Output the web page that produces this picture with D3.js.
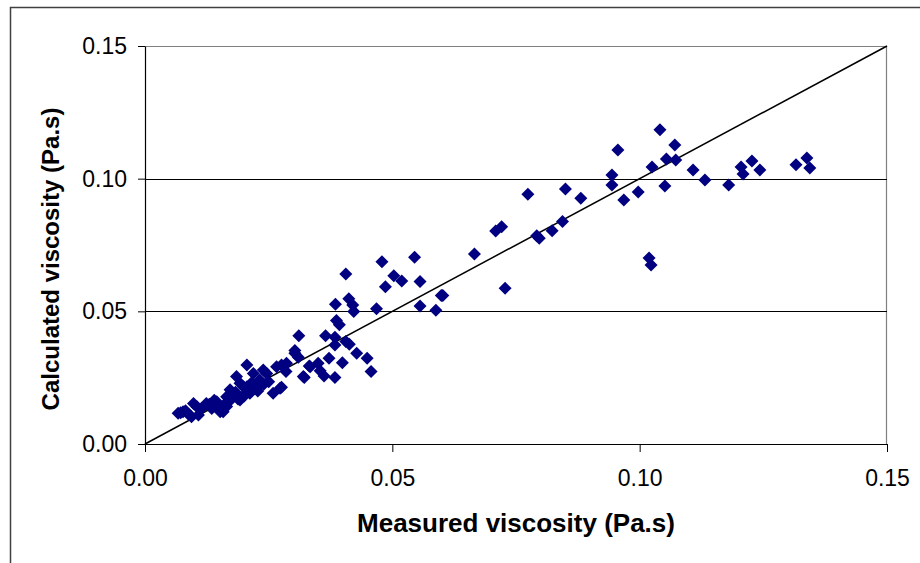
<!DOCTYPE html>
<html>
<head>
<meta charset="utf-8">
<script src="https://cdn.jsdelivr.net/npm/d3@7"></script>
<style>
  html, body { margin: 0; padding: 0; background: #fff; }
  svg { display: block; }
  text { font-family: "Liberation Sans", Arial, sans-serif; }
</style>
</head>
<body>
<svg id="chart" width="920" height="563"></svg>
<script>
// Measured vs calculated viscosity (Pa.s)
const measured = [
  0.1041, 0.0956, 0.1071, 0.1054, 0.1073, 0.0944, 0.0944, 0.1025, 0.1108, 0.1132,
  0.1051, 0.0997, 0.0968, 0.1180, 0.1205, 0.1209, 0.1227, 0.1243, 0.1316, 0.1338,
  0.1344, 0.1019, 0.1023,
  0.0774, 0.0850, 0.0881, 0.0844, 0.0823, 0.0797, 0.0792, 0.0721, 0.0709, 0.0666,
  0.0728, 0.0602,
  0.0545, 0.0479, 0.0406, 0.0503, 0.0519, 0.0556, 0.0486, 0.0599, 0.0412, 0.0385,
  0.0420, 0.0422, 0.0468, 0.0556, 0.0588, 0.0387, 0.0393, 0.0311, 0.0365, 0.0384,
  0.0406, 0.0413, 0.0384, 0.0303, 0.0428, 0.0449, 0.0310, 0.0372, 0.0399, 0.0332,
  0.0350, 0.0354, 0.0362, 0.0384, 0.0322, 0.0457, 0.0285, 0.0276, 0.0276,
  0.0067, 0.0077, 0.0094, 0.0098, 0.0108, 0.0124, 0.0135, 0.0145, 0.0158, 0.0165,
  0.0172, 0.0185, 0.0192, 0.0206, 0.0199, 0.0212, 0.0232, 0.0239, 0.0246, 0.0259,
  0.0273, 0.0266, 0.0286, 0.0303, 0.0320, 0.0334, 0.0219, 0.0192, 0.0145, 0.0178,
  0.0225, 0.0152, 0.0206, 0.0165, 0.0082, 0.0088, 0.0115, 0.0130, 0.0170, 0.0183,
  0.0200, 0.0215, 0.0240, 0.0250, 0.0188, 0.0160, 0.0228, 0.0072, 0.0105, 0.0140
];
const calculated = [
  0.1184, 0.1108, 0.1127, 0.1074, 0.1070, 0.1014, 0.0976, 0.1044, 0.1033, 0.0995,
  0.0972, 0.0950, 0.0920, 0.0976, 0.1044, 0.1018, 0.1067, 0.1033, 0.1052, 0.1078,
  0.1040, 0.0701, 0.0675,
  0.0941, 0.0961, 0.0926, 0.0839, 0.0804, 0.0775, 0.0785, 0.0819, 0.0803, 0.0716,
  0.0587, 0.0560,
  0.0704, 0.0687, 0.0641, 0.0634, 0.0614, 0.0612, 0.0593, 0.0560, 0.0547, 0.0527,
  0.0524, 0.0499, 0.0510, 0.0520, 0.0504, 0.0465, 0.0449, 0.0408, 0.0408, 0.0402,
  0.0386, 0.0376, 0.0373, 0.0352, 0.0342, 0.0323, 0.0327, 0.0323, 0.0306, 0.0294,
  0.0304, 0.0276, 0.0256, 0.0251, 0.0251, 0.0273, 0.0273, 0.0214, 0.0298,
  0.0116, 0.0122, 0.0103, 0.0153, 0.0109, 0.0153, 0.0134, 0.0159, 0.0122, 0.0141,
  0.0204, 0.0254, 0.0166, 0.0298, 0.0216, 0.0191, 0.0241, 0.0279, 0.0266, 0.0191,
  0.0210, 0.0291, 0.0304, 0.0342, 0.0254, 0.0291, 0.0266, 0.0229, 0.0141, 0.0178,
  0.0210, 0.0122, 0.0216, 0.0178, 0.0125, 0.0112, 0.0135, 0.0150, 0.0160, 0.0195,
  0.0180, 0.0230, 0.0225, 0.0235, 0.0170, 0.0148, 0.0200, 0.0118, 0.0140, 0.0165
];
const tickValues = [0, 0.05, 0.10, 0.15];
const parityLine = [0, 0.15];

const svg = d3.select("#chart");
const plotLeft = 145, plotRight = 887, plotTop = 46, plotBottom = 444;

const x = d3.scaleLinear().domain([0, 0.15]).range([plotLeft, plotRight]);
const y = d3.scaleLinear().domain([0, 0.15]).range([plotBottom, plotTop]);

// outer chart frame
svg.append("path")
  .attr("d", "M10.5,563 L10.5,7.5 L920,7.5")
  .attr("fill", "none").attr("stroke", "#404040").attr("stroke-width", 1.5);

// plot area frame (top and right)
svg.append("path")
  .attr("d", `M${plotLeft},${plotTop + 0.5} L${plotRight - 0.5},${plotTop + 0.5} L${plotRight - 0.5},${plotBottom}`)
  .attr("fill", "none").attr("stroke", "#808080").attr("stroke-width", 1.2);

// horizontal gridlines
svg.append("g").selectAll("line")
  .data(tickValues.filter(v => v > 0 && v < 0.15))
  .join("line")
  .attr("x1", plotLeft).attr("x2", plotRight)
  .attr("y1", d => Math.round(y(d)) + 0.5).attr("y2", d => Math.round(y(d)) + 0.5)
  .attr("stroke", "#000").attr("stroke-width", 1);

const fmt = d3.format(".2f");

// x axis
const xAxis = svg.append("g")
  .attr("transform", `translate(0,${plotBottom})`)
  .call(d3.axisBottom(x).tickValues(tickValues).tickFormat(fmt).tickSize(8).tickPadding(18).tickSizeOuter(0));
xAxis.select(".domain").attr("stroke", "#000").attr("stroke-width", 1.2);
xAxis.selectAll(".tick line").attr("stroke", "#000");
xAxis.selectAll("text").attr("font-size", 23).attr("fill", "#000")
  .attr("font-family", "Liberation Sans, Arial, sans-serif");

// y axis
const yAxis = svg.append("g")
  .attr("transform", `translate(${plotLeft},0)`)
  .call(d3.axisLeft(y).tickValues(tickValues).tickFormat(fmt).tickSize(7).tickPadding(11).tickSizeOuter(0));
yAxis.select(".domain").attr("stroke", "#000").attr("stroke-width", 1.2);
yAxis.selectAll(".tick line").attr("stroke", "#000");
yAxis.selectAll("text").attr("font-size", 23).attr("fill", "#000")
  .attr("font-family", "Liberation Sans, Arial, sans-serif");

// parity line y = x
svg.append("line")
  .attr("x1", x(parityLine[0])).attr("y1", y(parityLine[0]))
  .attr("x2", x(parityLine[1])).attr("y2", y(parityLine[1]))
  .attr("stroke", "#000").attr("stroke-width", 1.5);

// data markers (diamonds)
const diamond = "M0,-6.5 L6.5,0 L0,6.5 L-6.5,0 Z";
svg.append("g").selectAll("path")
  .data(measured.map((m, i) => [m, calculated[i]]))
  .join("path")
  .attr("d", diamond)
  .attr("transform", d => `translate(${x(d[0])},${y(d[1])})`)
  .attr("fill", "#000080");

// axis titles
svg.append("text")
  .attr("x", 516).attr("y", 532)
  .attr("text-anchor", "middle")
  .attr("font-size", 26).attr("font-weight", "bold")
  .text("Measured viscosity (Pa.s)");

svg.append("text")
  .attr("transform", "translate(59,259) rotate(-90)")
  .attr("text-anchor", "middle")
  .attr("font-size", 24).attr("font-weight", "bold")
  .text("Calculated viscosity (Pa.s)");
</script>
</body>
</html>
